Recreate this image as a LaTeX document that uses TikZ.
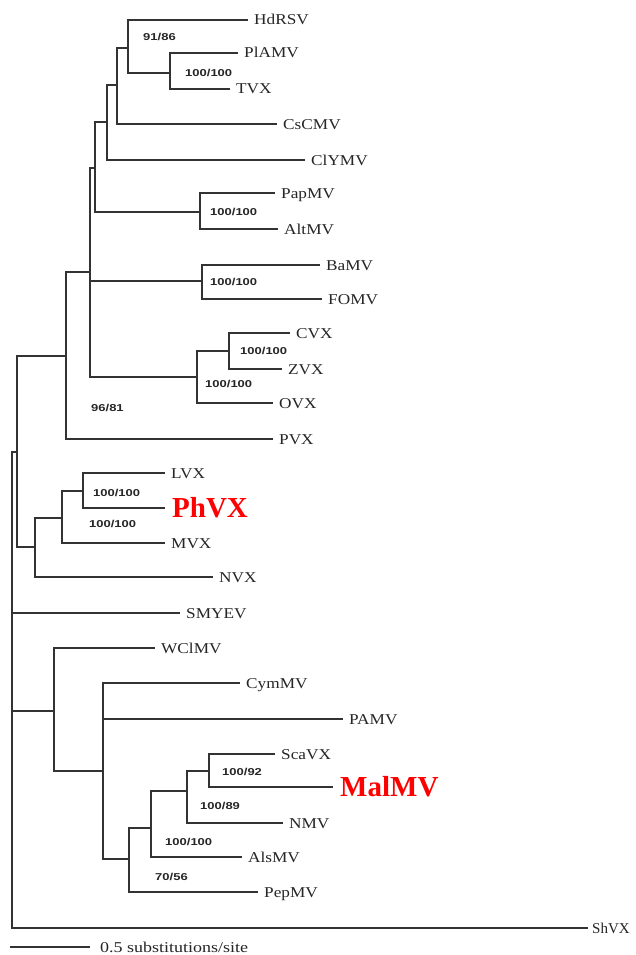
\documentclass[tikz,border=0pt]{standalone}
\usepackage{fontspec}
\setmainfont{Liberation Serif}
\newfontfamily\bootfont{Liberation Sans}
\usepackage{graphicx}
\newcommand{\wl}[1]{\scalebox{1.15}[1]{#1}}
\newcommand{\bl}[1]{\scalebox{1.3}[1]{#1}}
\begin{document}
\begin{tikzpicture}[x=1pt,y=-1pt,
  br/.style={line width=1.6pt, draw=black!80},
  lab/.style={anchor=west, inner xsep=6pt, inner ysep=0pt, text height=10pt, text depth=0pt,
              font=\fontsize{15}{15}\selectfont, text=black!85},
  hilab/.style={anchor=west, inner xsep=7pt, inner ysep=0pt, text height=19pt, text depth=0pt,
              font=\fontsize{29}{29}\selectfont\bfseries, text=red},
  boot/.style={anchor=west, inner sep=0pt, text height=7pt, text depth=0pt,
              font=\bootfont\fontsize{10}{10}\selectfont\bfseries, text=black!85}]
\fill[white] (0,0) rectangle (635,955);
\useasboundingbox (0,0) rectangle (635,955);

% leaves
\node[lab] (HdRSV) at (248,20) {\wl{HdRSV}};
\node[lab] (PlAMV) at (238,53) {\wl{PlAMV}};
\node[lab] (TVX) at (230,89) {\wl{TVX}};
\node[lab] (CsCMV) at (277,124) {\wl{CsCMV}};
\node[lab] (ClYMV) at (305,160) {\wl{ClYMV}};
\node[lab] (PapMV) at (275,193) {\wl{PapMV}};
\node[lab] (AltMV) at (278,229) {\wl{AltMV}};
\node[lab] (BaMV) at (320,265) {\wl{BaMV}};
\node[lab] (FOMV) at (322,299) {\wl{FOMV}};
\node[lab] (CVX) at (290,333) {\wl{CVX}};
\node[lab] (ZVX) at (282,369) {\wl{ZVX}};
\node[lab] (OVX) at (273,403) {\wl{OVX}};
\node[lab] (PVX) at (273,439) {\wl{PVX}};
\node[lab] (LVX) at (165,473) {\wl{LVX}};
\node[hilab] (PhVX) at (165,508) {PhVX};
\node[lab] (MVX) at (165,543) {\wl{MVX}};
\node[lab] (NVX) at (213,577) {\wl{NVX}};
\node[lab] (SMYEV) at (180,613) {\wl{SMYEV}};
\node[lab] (WClMV) at (155,648) {\wl{WClMV}};
\node[lab] (CymMV) at (240,683) {\wl{CymMV}};
\node[lab] (PAMV) at (343,719) {\wl{PAMV}};
\node[lab] (ScaVX) at (275,754) {\wl{ScaVX}};
\node[hilab] (MalMV) at (333,787) {MalMV};
\node[lab] (NMV) at (283,823) {\wl{NMV}};
\node[lab] (AlsMV) at (242,857) {\wl{AlsMV}};
\node[lab] (PepMV) at (258,892) {\wl{PepMV}};
\node[lab, inner xsep=4pt] (ShVX) at (588,928) {ShVX};

% internal nodes
\coordinate (nTVX) at (170,73);
\coordinate (nHd) at (128,48);
\coordinate (nCs) at (117,85);
\coordinate (nCl) at (107,122);
\coordinate (nPap) at (200,212);
\coordinate (nA1) at (95,168);
\coordinate (nBa) at (202,281);
\coordinate (nCV) at (229,351);
\coordinate (nOV) at (197,377);
\coordinate (nA) at (90,272);
\coordinate (nPV) at (66,356);
\coordinate (nLV) at (83,491);
\coordinate (nMV) at (62,518);
\coordinate (nNV) at (35,547);
\coordinate (nUp) at (17,452);
\coordinate (nSc) at (209,771);
\coordinate (nNM) at (187,791);
\coordinate (nAl) at (151,828);
\coordinate (nPe) at (129,859);
\coordinate (nCy) at (103,771);
\coordinate (nWC) at (54,711);
\coordinate (root) at (12,690);

% branches
\draw[br] (nTVX) |- (PlAMV.west) (nTVX) |- (TVX.west);
\draw[br] (nHd) |- (HdRSV.west) (nHd) |- (nTVX);
\draw[br] (nCs) |- (nHd) (nCs) |- (CsCMV.west);
\draw[br] (nCl) |- (nCs) (nCl) |- (ClYMV.west);
\draw[br] (nPap) |- (PapMV.west) (nPap) |- (AltMV.west);
\draw[br] (nA1) |- (nCl) (nA1) |- (nPap);
\draw[br] (nBa) |- (BaMV.west) (nBa) |- (FOMV.west);
\draw[br] (nCV) |- (CVX.west) (nCV) |- (ZVX.west);
\draw[br] (nOV) |- (nCV) (nOV) |- (OVX.west);
\draw[br] (nA) |- (nA1) (nA) |- (nBa) (nA) |- (nOV);
\draw[br] (nPV) |- (nA) (nPV) |- (PVX.west);
\draw[br] (nLV) |- (LVX.west) (nLV) |- (PhVX.west);
\draw[br] (nMV) |- (nLV) (nMV) |- (MVX.west);
\draw[br] (nNV) |- (nMV) (nNV) |- (NVX.west);
\draw[br] (nUp) |- (nPV) (nUp) |- (nNV);
\draw[br] (nSc) |- (ScaVX.west) (nSc) |- (MalMV.west);
\draw[br] (nNM) |- (nSc) (nNM) |- (NMV.west);
\draw[br] (nAl) |- (nNM) (nAl) |- (AlsMV.west);
\draw[br] (nPe) |- (nAl) (nPe) |- (PepMV.west);
\draw[br] (nCy) |- (CymMV.west) (nCy) |- (PAMV.west) (nCy) |- (nPe);
\draw[br] (nWC) |- (WClMV.west) (nWC) |- (nCy);
\draw[br] (root) |- (nUp) (root) |- (SMYEV.west) (root) |- (nWC) (root) |- (ShVX.west);

% bootstrap values
\node[boot] (b1) at (143,37) {\bl{91/86}};
\node[boot] (b2) at (185,73) {\bl{100/100}};
\node[boot] (b3) at (210,212) {\bl{100/100}};
\node[boot] (b4) at (210,282) {\bl{100/100}};
\node[boot] (b5) at (240,351) {\bl{100/100}};
\node[boot] (b6) at (205,384) {\bl{100/100}};
\node[boot] (b7) at (91,408) {\bl{96/81}};
\node[boot] (b8) at (93,493) {\bl{100/100}};
\node[boot] (b9) at (89,524) {\bl{100/100}};
\node[boot] (b10) at (222,772) {\bl{100/92}};
\node[boot] (b11) at (200,806) {\bl{100/89}};
\node[boot] (b12) at (165,842) {\bl{100/100}};
\node[boot] (b13) at (155,877) {\bl{70/56}};

% scale bar
\coordinate (s1) at (10,947);
\node[lab, inner xsep=10pt] (scale) at (90,947) {\scalebox{1.2}[1]{0.5 substitutions/site}};
\draw[br, line width=1.2pt] (s1) -- (scale.west);
\end{tikzpicture}
\end{document}
